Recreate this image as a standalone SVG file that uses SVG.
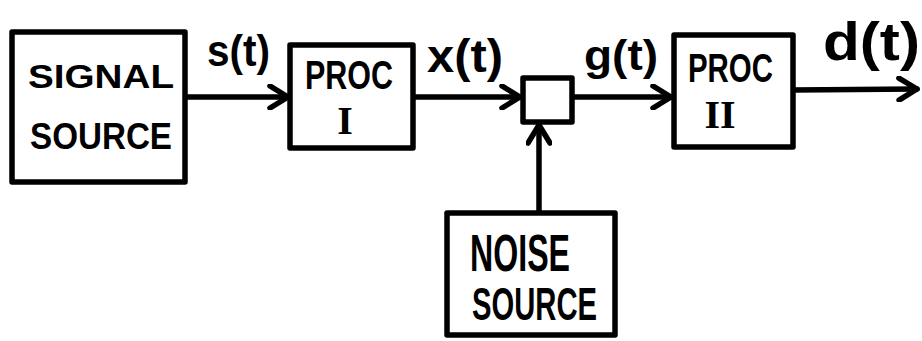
<svg xmlns="http://www.w3.org/2000/svg" width="922" height="341" viewBox="0 0 922 341">
  <style>
    .box { fill: #fff; stroke: #000; stroke-width: 5.5; stroke-linejoin: round; }
    .wire { fill: none; stroke: #000; stroke-width: 5.5; stroke-linecap: round; }
    .lbl { font-family: "Liberation Sans", "DejaVu Sans", sans-serif; font-weight: bold; fill: #000; }
    .num { font-family: "Liberation Serif", "DejaVu Serif", serif; font-weight: bold; fill: #000; }
  </style>
  <defs>
    <marker id="arrow" viewBox="0 0 26 26" refX="22" refY="13" markerWidth="26" markerHeight="26" markerUnits="userSpaceOnUse" orient="auto">
      <path d="M4,2 L22,13 L4,24" fill="none" stroke="#000" stroke-width="5.5" stroke-linecap="round" stroke-linejoin="round"/>
    </marker>
  </defs>
  <rect width="922" height="341" fill="#fff"/>

  <g id="connectors">
    <line class="wire" x1="185" y1="97" x2="288" y2="97" marker-end="url(#arrow)"/>
    <line class="wire" x1="413" y1="97" x2="520" y2="97" marker-end="url(#arrow)"/>
    <line class="wire" x1="572" y1="97" x2="671" y2="97" marker-end="url(#arrow)"/>
    <line class="wire" x1="793" y1="90" x2="917" y2="89" marker-end="url(#arrow)"/>
    <line class="wire" x1="539" y1="212" x2="539" y2="125" marker-end="url(#arrow)"/>
    <text class="lbl" x="207" y="66" font-size="44" textLength="63" lengthAdjust="spacingAndGlyphs">s(t)</text>
    <text class="lbl" x="427" y="72" font-size="46" textLength="76" lengthAdjust="spacingAndGlyphs">x(t)</text>
    <text class="lbl" x="584" y="70" font-size="42" textLength="74" lengthAdjust="spacingAndGlyphs">g(t)</text>
    <text class="lbl" x="823" y="60" font-size="54" textLength="97" lengthAdjust="spacingAndGlyphs">d(t)</text>
  </g>

  <g id="signal-source">
    <rect class="box" x="12" y="32" width="173" height="150"/>
    <text class="lbl" x="28" y="88" font-size="34" textLength="146" lengthAdjust="spacingAndGlyphs">SIGNAL</text>
    <text class="lbl" x="30" y="149" font-size="36" textLength="142" lengthAdjust="spacingAndGlyphs">SOURCE</text>
  </g>

  <g id="proc-1">
    <rect class="box" x="290" y="45" width="123" height="103"/>
    <text class="lbl" x="305" y="89" font-size="40" textLength="88" lengthAdjust="spacingAndGlyphs">PROC</text>
    <text class="num" x="345" y="134" font-size="40" text-anchor="middle">I</text>
  </g>

  <g id="summer">
    <rect class="box" x="523" y="78" width="49" height="44"/>
  </g>

  <g id="proc-2">
    <rect class="box" x="674" y="35" width="119" height="112"/>
    <text class="lbl" x="688" y="82" font-size="40" textLength="85" lengthAdjust="spacingAndGlyphs">PROC</text>
    <text class="num" x="720" y="128" font-size="40" text-anchor="middle">II</text>
  </g>

  <g id="noise-source">
    <rect class="box" x="447" y="213" width="168" height="122"/>
    <text class="lbl" x="470" y="271" font-size="52" textLength="100" lengthAdjust="spacingAndGlyphs">NOISE</text>
    <text class="lbl" x="472" y="320" font-size="46" textLength="125" lengthAdjust="spacingAndGlyphs">SOURCE</text>
  </g>
</svg>
